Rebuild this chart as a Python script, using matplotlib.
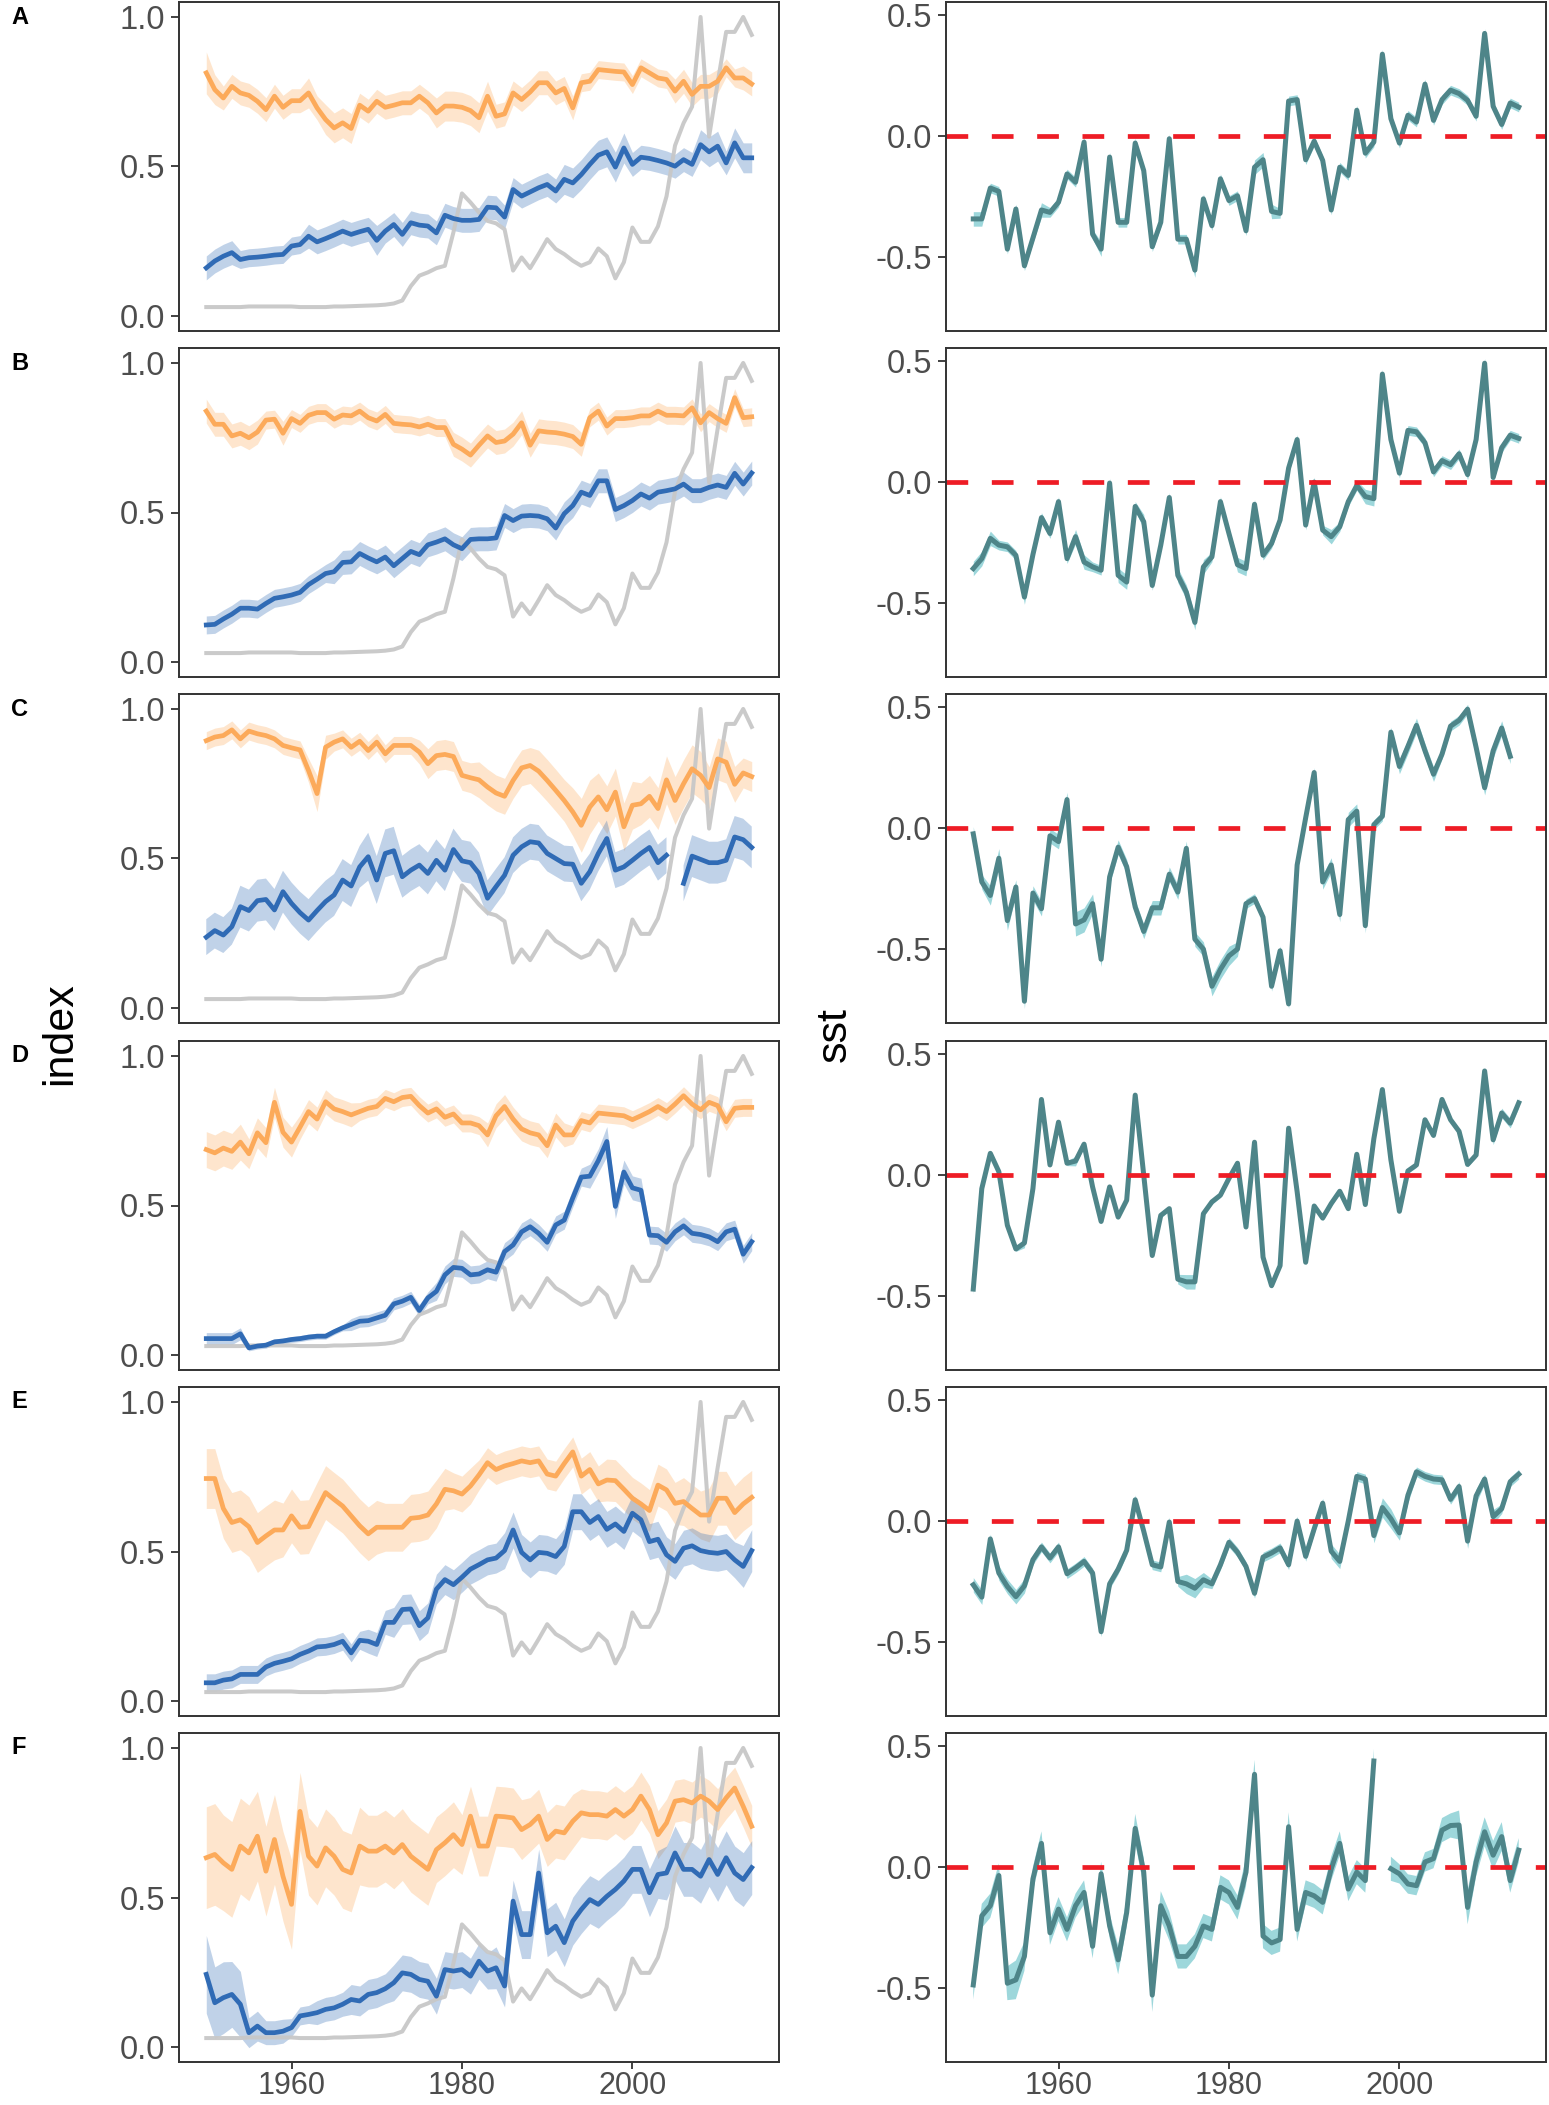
import numpy as np
import matplotlib
matplotlib.use("Agg")
import matplotlib.pyplot as plt

plt.rcParams['font.family'] = ['Liberation Sans', 'DejaVu Sans']

years = list(range(1950, 2015))
panel_labels = ["A", "B", "C", "D", "E", "F"]
left_ticks = [0.0, 0.5, 1.0]
left_ticklabels = ["0.0", "0.5", "1.0"]
right_ticks = [-0.5, 0.0, 0.5]
right_ticklabels = ["-0.5", "0.0", "0.5"]
x_ticks = [1960, 1980, 2000]
x_ticklabels = ["1960", "1980", "2000"]
nan = float("nan")

# shared grey index series
grey_index = [0.03, 0.03, 0.03, 0.03, 0.03, 0.032, 0.032, 0.032, 0.032, 0.032,
              0.032, 0.03, 0.03, 0.03, 0.03, 0.032, 0.032, 0.033, 0.034, 0.035,
              0.036, 0.038, 0.042, 0.052, 0.10, 0.135, 0.146, 0.16, 0.168, 0.28,
              0.41, 0.38, 0.346, 0.318, 0.31, 0.29, 0.152, 0.196, 0.16, 0.207,
              0.257, 0.224, 0.207, 0.185, 0.168, 0.18, 0.226, 0.20, 0.126, 0.18,
              0.296, 0.248, 0.248, 0.30, 0.40, 0.57, 0.645, 0.70, 1.0, 0.60,
              0.78, 0.95, 0.95, 1.0, 0.94]

# orange index series (per panel)
orange_A = [0.813, 0.757, 0.729, 0.768, 0.746, 0.738, 0.718, 0.69, 0.735, 0.698,
            0.72, 0.72, 0.746, 0.696, 0.657, 0.629, 0.646, 0.627, 0.705, 0.685,
            0.718, 0.698, 0.705, 0.713, 0.713, 0.735, 0.713, 0.679, 0.702, 0.702,
            0.698, 0.687, 0.663, 0.735, 0.668, 0.676, 0.746, 0.724, 0.749, 0.78,
            0.78, 0.746, 0.761, 0.696, 0.78, 0.785, 0.824, 0.821, 0.818, 0.816,
            0.774, 0.83, 0.813, 0.796, 0.791, 0.752, 0.785, 0.741, 0.768, 0.768,
            0.785, 0.83, 0.796, 0.796, 0.776]
orange_B = [0.839, 0.795, 0.795, 0.756, 0.765, 0.75, 0.769, 0.809, 0.812, 0.765,
            0.814, 0.798, 0.825, 0.834, 0.834, 0.812, 0.826, 0.823, 0.839, 0.817,
            0.806, 0.828, 0.798, 0.795, 0.793, 0.786, 0.795, 0.784, 0.784, 0.728,
            0.712, 0.692, 0.725, 0.756, 0.734, 0.739, 0.762, 0.80, 0.725, 0.773,
            0.769, 0.767, 0.762, 0.754, 0.728, 0.817, 0.839, 0.789, 0.814, 0.814,
            0.817, 0.823, 0.823, 0.839, 0.825, 0.825, 0.823, 0.85, 0.80, 0.834,
            0.814, 0.798, 0.884, 0.817, 0.82]
orange_C = [0.894, 0.906, 0.911, 0.93, 0.90, 0.926, 0.917, 0.911, 0.90, 0.878,
            0.87, 0.863, 0.794, 0.717, 0.872, 0.889, 0.90, 0.872, 0.892, 0.861,
            0.889, 0.85, 0.878, 0.878, 0.878, 0.856, 0.817, 0.844, 0.848, 0.841,
            0.778, 0.77, 0.763, 0.739, 0.719, 0.708, 0.761, 0.803, 0.811, 0.792,
            0.761, 0.728, 0.694, 0.656, 0.611, 0.672, 0.706, 0.663, 0.722, 0.606,
            0.678, 0.683, 0.708, 0.667, 0.763, 0.694, 0.75, 0.80, 0.778, 0.737,
            0.833, 0.822, 0.748, 0.786, 0.774]
orange_D = [0.687, 0.676, 0.692, 0.681, 0.712, 0.673, 0.743, 0.710, 0.845, 0.745,
            0.712, 0.762, 0.814, 0.789, 0.847, 0.823, 0.814, 0.803, 0.814, 0.825,
            0.831, 0.858, 0.847, 0.861, 0.865, 0.834, 0.809, 0.823, 0.795, 0.806,
            0.776, 0.776, 0.767, 0.736, 0.80, 0.831, 0.789, 0.756, 0.743, 0.736,
            0.70, 0.769, 0.736, 0.736, 0.784, 0.776, 0.809, 0.806, 0.803, 0.80,
            0.787, 0.80, 0.814, 0.831, 0.814, 0.839, 0.867, 0.839, 0.820, 0.845,
            0.834, 0.780, 0.825, 0.828, 0.828]
orange_E = [0.744, 0.744, 0.644, 0.597, 0.606, 0.583, 0.53, 0.552, 0.572, 0.572,
            0.619, 0.581, 0.583, 0.641, 0.697, 0.674, 0.652, 0.619, 0.586, 0.559,
            0.581, 0.581, 0.581, 0.581, 0.611, 0.614, 0.622, 0.659, 0.708, 0.703,
            0.692, 0.719, 0.756, 0.797, 0.774, 0.786, 0.794, 0.803, 0.797, 0.803,
            0.759, 0.752, 0.794, 0.833, 0.752, 0.774, 0.726, 0.739, 0.737, 0.708,
            0.678, 0.659, 0.637, 0.722, 0.706, 0.661, 0.667, 0.644, 0.622, 0.622,
            0.678, 0.678, 0.630, 0.659, 0.681]
orange_F = [0.633, 0.644, 0.616, 0.594, 0.672, 0.649, 0.705, 0.588, 0.694, 0.571,
            0.477, 0.788, 0.638, 0.605, 0.666, 0.638, 0.594, 0.582, 0.672, 0.655,
            0.655, 0.672, 0.649, 0.677, 0.638, 0.616, 0.594, 0.66, 0.683, 0.71,
            0.677, 0.772, 0.672, 0.672, 0.772, 0.77, 0.766, 0.727, 0.744, 0.772,
            0.694, 0.722, 0.716, 0.755, 0.783, 0.777, 0.777, 0.772, 0.794, 0.772,
            0.794, 0.839, 0.794, 0.71, 0.749, 0.822, 0.827, 0.816, 0.839, 0.822,
            0.794, 0.833, 0.866, 0.805, 0.738]

# blue index series (per panel)
blue_A = [0.161, 0.184, 0.20, 0.212, 0.189, 0.195, 0.197, 0.20, 0.204, 0.206,
          0.234, 0.239, 0.267, 0.248, 0.259, 0.271, 0.284, 0.273, 0.282, 0.29,
          0.253, 0.284, 0.306, 0.273, 0.312, 0.304, 0.301, 0.278, 0.337, 0.326,
          0.32, 0.32, 0.323, 0.364, 0.362, 0.331, 0.423, 0.401, 0.415, 0.429,
          0.44, 0.418, 0.457, 0.445, 0.473, 0.507, 0.538, 0.549, 0.498, 0.562,
          0.507, 0.531, 0.527, 0.52, 0.512, 0.501, 0.523, 0.507, 0.573, 0.549,
          0.568, 0.512, 0.579, 0.529, 0.529]
blue_B = [0.124, 0.126, 0.144, 0.16, 0.18, 0.18, 0.177, 0.196, 0.213, 0.218,
          0.224, 0.233, 0.259, 0.277, 0.296, 0.302, 0.333, 0.335, 0.363, 0.348,
          0.335, 0.351, 0.322, 0.346, 0.37, 0.359, 0.392, 0.401, 0.412, 0.392,
          0.379, 0.41, 0.412, 0.412, 0.415, 0.49, 0.473, 0.488, 0.49, 0.488,
          0.479, 0.448, 0.496, 0.523, 0.568, 0.557, 0.606, 0.606, 0.51, 0.523,
          0.54, 0.562, 0.548, 0.568, 0.573, 0.579, 0.595, 0.573, 0.573, 0.584,
          0.592, 0.584, 0.631, 0.595, 0.632]
blue_C = [0.237, 0.259, 0.244, 0.272, 0.339, 0.326, 0.359, 0.363, 0.328, 0.389,
          0.35, 0.319, 0.294, 0.326, 0.356, 0.378, 0.428, 0.408, 0.472, 0.506,
          0.428, 0.517, 0.526, 0.439, 0.461, 0.478, 0.45, 0.494, 0.461, 0.53,
          0.492, 0.486, 0.45, 0.367, 0.406, 0.444, 0.511, 0.539, 0.556, 0.552,
          0.517, 0.50, 0.483, 0.481, 0.417, 0.456, 0.517, 0.567, 0.461, 0.472,
          0.494, 0.517, 0.537, 0.486, 0.511, nan, 0.417, 0.508, 0.497, 0.486,
          0.486, 0.494, 0.572, 0.563, 0.537]
blue_D = [0.055, 0.055, 0.055, 0.055, 0.071, 0.024, 0.030, 0.033, 0.044, 0.047,
          0.052, 0.055, 0.060, 0.063, 0.063, 0.078, 0.091, 0.102, 0.113, 0.115,
          0.124, 0.133, 0.171, 0.180, 0.193, 0.149, 0.191, 0.213, 0.268, 0.293,
          0.290, 0.268, 0.271, 0.285, 0.277, 0.346, 0.368, 0.412, 0.429, 0.407,
          0.377, 0.435, 0.451, 0.525, 0.595, 0.598, 0.650, 0.714, 0.497, 0.612,
          0.559, 0.551, 0.401, 0.399, 0.377, 0.412, 0.432, 0.407, 0.403, 0.395,
          0.379, 0.412, 0.421, 0.337, 0.379]
blue_E = [0.061, 0.061, 0.07, 0.074, 0.089, 0.089, 0.089, 0.114, 0.126, 0.133,
          0.141, 0.156, 0.167, 0.181, 0.183, 0.189, 0.20, 0.161, 0.203, 0.20,
          0.189, 0.263, 0.263, 0.306, 0.308, 0.252, 0.278, 0.374, 0.406, 0.389,
          0.414, 0.441, 0.456, 0.472, 0.478, 0.503, 0.572, 0.497, 0.472, 0.497,
          0.494, 0.483, 0.517, 0.633, 0.633, 0.597, 0.617, 0.574, 0.592, 0.567,
          0.628, 0.606, 0.533, 0.541, 0.489, 0.467, 0.511, 0.519, 0.503, 0.497,
          0.494, 0.50, 0.472, 0.45, 0.503]
blue_F = [0.243, 0.148, 0.165, 0.176, 0.143, 0.048, 0.07, 0.048, 0.048, 0.053,
          0.065, 0.104, 0.109, 0.115, 0.126, 0.131, 0.143, 0.159, 0.154, 0.176,
          0.182, 0.195, 0.215, 0.248, 0.243, 0.226, 0.22, 0.17, 0.259, 0.254,
          0.259, 0.237, 0.287, 0.254, 0.265, 0.204, 0.488, 0.376, 0.376, 0.582,
          0.382, 0.404, 0.349, 0.421, 0.46, 0.493, 0.477, 0.504, 0.527, 0.555,
          0.594, 0.594, 0.516, 0.577, 0.582, 0.649, 0.594, 0.594, 0.571, 0.627,
          0.577, 0.633, 0.582, 0.56, 0.60]

# ribbon half-widths, in hundredths
orange_hw_A = [7, 5, 4, 4, 4, 4, 4, 4, 4, 4, 4, 4, 5, 4, 5, 5, 5, 5, 4, 4,
               4, 4, 4, 4, 4, 4, 4, 5, 5, 5, 5, 5, 5, 5, 4, 4, 4, 4, 4, 4,
               4, 4, 4, 4, 3, 3, 3, 3, 3, 3, 3, 3, 3, 3, 3, 4, 4, 4, 4, 4,
               4, 3, 3, 4, 4]
orange_hw_B = [4, 4, 4, 4, 4, 4, 4, 3, 3, 4, 3, 3, 3, 3, 3, 3, 3, 3, 3, 3,
               3, 3, 3, 3, 3, 3, 3, 3, 3, 4, 4, 4, 4, 4, 4, 4, 4, 4, 4, 4,
               4, 4, 4, 4, 4, 3, 3, 3, 3, 3, 3, 3, 3, 3, 3, 3, 3, 3, 3, 3,
               3, 3, 3, 3, 3]
orange_hw_C = [3, 3, 3, 3, 3, 3, 3, 3, 3, 3, 3, 3, 4, 6, 4, 3, 3, 3, 3, 3,
               3, 3, 3, 3, 3, 4, 5, 5, 5, 5, 5, 5, 6, 6, 6, 6, 6, 6, 6, 7,
               7, 7, 7, 8, 9, 9, 8, 8, 8, 8, 8, 7, 7, 7, 8, 8, 8, 8, 8, 7,
               7, 7, 6, 5, 5]
orange_hw_D = [6, 6, 6, 6, 6, 5, 5, 5, 5, 5, 5, 4, 4, 4, 4, 4, 4, 4, 3, 3,
               3, 3, 3, 3, 3, 3, 3, 3, 3, 3, 3, 3, 3, 4, 4, 4, 4, 4, 4, 4,
               4, 4, 4, 3, 3, 3, 3, 3, 3, 3, 3, 3, 3, 3, 3, 3, 3, 3, 3, 3,
               3, 3, 3, 3, 3]
orange_hw_E = [10, 10, 10, 10, 10, 10, 10, 10, 10, 9, 9, 9, 9, 9, 9, 9, 9, 9, 9, 9,
               9, 8, 8, 8, 8, 8, 8, 8, 7, 6, 6, 6, 5, 5, 5, 5, 5, 5, 5, 5,
               5, 5, 5, 5, 6, 6, 6, 7, 7, 7, 7, 7, 7, 7, 7, 7, 8, 8, 8, 9,
               9, 9, 9, 9, 9]
orange_hw_F = [17, 17, 16, 16, 16, 16, 15, 15, 15, 15, 15, 13, 13, 13, 13, 13, 13, 13, 13, 12,
               12, 12, 12, 12, 12, 12, 12, 11, 11, 11, 10, 10, 10, 10, 10, 10, 10, 10, 9, 9,
               9, 9, 9, 9, 8, 8, 8, 8, 8, 8, 8, 8, 8, 8, 8, 7, 7, 7, 7, 7,
               7, 7, 7, 7, 7]
blue_hw_A = [4, 4, 4, 4, 3, 3, 3, 3, 3, 3, 3, 3, 4, 4, 4, 4, 4, 4, 4, 4,
             5, 4, 4, 4, 4, 4, 4, 4, 4, 4, 4, 4, 4, 4, 4, 4, 4, 4, 4, 4,
             4, 4, 5, 5, 5, 5, 5, 5, 5, 5, 4, 4, 4, 4, 4, 4, 4, 4, 5, 5,
             5, 4, 5, 5, 5]
blue_hw_B = [3, 3, 3, 3, 3, 3, 3, 3, 3, 3, 3, 3, 3, 3, 3, 4, 4, 4, 4, 4,
             4, 4, 4, 4, 4, 4, 4, 4, 4, 4, 4, 4, 4, 4, 4, 4, 4, 4, 4, 4,
             4, 4, 4, 4, 4, 4, 4, 4, 4, 4, 4, 4, 4, 4, 4, 4, 4, 4, 4, 4,
             4, 4, 4, 4, 4]
blue_hw_C = [6, 6, 6, 6, 7, 7, 7, 7, 7, 7, 7, 7, 7, 7, 7, 7, 7, 7, 7, 8,
             8, 8, 8, 7, 7, 7, 7, 7, 7, 7, 7, 7, 7, 6, 6, 6, 6, 6, 6, 6,
             6, 6, 6, 6, 6, 6, 6, 6, 6, 6, 6, 6, 6, 6, 6, 6, 6, 7, 7, 7,
             7, 7, 7, 7, 7]
blue_hw_D = [2, 2, 2, 2, 2, 1, 1, 1, 1, 1, 1, 1, 1, 1, 1, 1, 1, 2, 2, 2,
             2, 2, 2, 2, 2, 2, 2, 3, 3, 3, 3, 3, 3, 3, 3, 3, 3, 3, 3, 3,
             3, 3, 3, 3, 3, 4, 4, 5, 4, 4, 4, 4, 3, 3, 3, 3, 3, 3, 3, 3,
             3, 3, 3, 3, 3]
blue_hw_E = [3, 3, 3, 3, 3, 3, 3, 3, 3, 3, 3, 3, 3, 3, 3, 3, 3, 3, 3, 4,
             4, 4, 5, 5, 5, 5, 5, 5, 5, 5, 5, 5, 5, 5, 5, 6, 6, 6, 6, 6,
             6, 6, 6, 6, 6, 6, 6, 6, 6, 6, 6, 6, 6, 6, 6, 6, 6, 6, 6, 6,
             6, 6, 6, 7, 7]
blue_hw_F = [13, 12, 12, 11, 11, 5, 5, 4, 4, 4, 3, 3, 3, 4, 4, 4, 4, 5, 5, 5,
             5, 5, 6, 6, 6, 6, 6, 6, 6, 6, 6, 6, 6, 6, 7, 7, 7, 8, 8, 8,
             8, 8, 8, 8, 8, 8, 8, 8, 8, 8, 8, 8, 8, 8, 9, 9, 9, 9, 9, 9,
             9, 9, 9, 9, 9]

# sst series (per panel)
sst_A = [-0.343, -0.343, -0.215, -0.229, -0.468, -0.302, -0.537, -0.422, -0.306, -0.316,
         -0.274, -0.157, -0.191, -0.025, -0.406, -0.468, -0.087, -0.357, -0.357, -0.029,
         -0.143, -0.458, -0.357, -0.011, -0.427, -0.427, -0.555, -0.26, -0.371, -0.177,
         -0.267, -0.247, -0.392, -0.129, -0.098, -0.312, -0.32, 0.145, 0.151, -0.098,
         -0.021, -0.101, -0.306, -0.129, -0.163, 0.107, -0.071, -0.025, 0.339, 0.072,
         -0.029, 0.086, 0.058, 0.215, 0.065, 0.151, 0.19, 0.176, 0.148, 0.082,
         0.425, 0.123, 0.048, 0.137, 0.12]
sst_B = [-0.358, -0.317, -0.233, -0.261, -0.268, -0.303, -0.476, -0.30, -0.147, -0.213,
         -0.081, -0.317, -0.226, -0.331, -0.351, -0.365, -0.004, -0.386, -0.414, -0.101,
         -0.164, -0.428, -0.261, -0.064, -0.386, -0.456, -0.581, -0.351, -0.31, -0.081,
         -0.213, -0.342, -0.358, -0.092, -0.303, -0.254, -0.157, 0.058, 0.176, -0.178,
         0.0, -0.199, -0.226, -0.185, -0.081, -0.014, -0.06, -0.069, 0.447, 0.176,
         0.037, 0.214, 0.208, 0.163, 0.042, 0.089, 0.072, 0.117, 0.031, 0.176,
         0.492, 0.019, 0.142, 0.194, 0.181]
sst_C = [-0.024, -0.223, -0.279, -0.125, -0.383, -0.244, -0.717, -0.269, -0.334, -0.032,
         -0.056, 0.118, -0.397, -0.38, -0.313, -0.543, -0.202, -0.079, -0.16, -0.327,
         -0.428, -0.33, -0.33, -0.191, -0.265, -0.084, -0.46, -0.501, -0.655, -0.585,
         -0.529, -0.501, -0.313, -0.292, -0.369, -0.655, -0.508, -0.728, -0.153, 0.042,
         0.23, -0.223, -0.153, -0.358, 0.035, 0.07, -0.404, 0.014, 0.049, 0.397,
         0.255, 0.338, 0.425, 0.32, 0.223, 0.306, 0.422, 0.446, 0.492, 0.334,
         0.167, 0.32, 0.414, 0.297, nan]
sst_D = [-0.472, -0.056, 0.09, 0.014, -0.208, -0.306, -0.281, -0.056, 0.313, 0.042,
         0.219, 0.049, 0.058, 0.128, -0.049, -0.192, -0.049, -0.174, -0.104, 0.331,
         0.0, -0.333, -0.167, -0.139, -0.431, -0.442, -0.442, -0.16, -0.111, -0.083,
         -0.014, 0.049, -0.215, 0.136, -0.34, -0.458, -0.375, 0.194, -0.069, -0.361,
         -0.128, -0.178, -0.118, -0.067, -0.139, 0.086, -0.122, 0.15, 0.354, 0.063,
         -0.15, 0.017, 0.042, 0.229, 0.164, 0.313, 0.229, 0.181, 0.044, 0.083,
         0.431, 0.146, 0.257, 0.215, 0.299]
sst_E = [-0.264, -0.315, -0.074, -0.215, -0.271, -0.313, -0.268, -0.16, -0.107, -0.153,
         -0.107, -0.218, -0.194, -0.167, -0.215, -0.458, -0.26, -0.199, -0.121, 0.088,
         -0.042, -0.181, -0.19, -0.004, -0.25, -0.26, -0.278, -0.243, -0.26, -0.181,
         -0.088, -0.129, -0.188, -0.299, -0.149, -0.132, -0.111, -0.181, 0.0, -0.146,
         -0.032, 0.074, -0.125, -0.167, 0.0, 0.185, 0.174, -0.06, 0.056, 0.01,
         -0.049, 0.107, 0.204, 0.185, 0.174, 0.171, 0.09, 0.143, -0.083, 0.104,
         0.174, 0.018, 0.051, 0.163, 0.194]
sst_F = [-0.488, -0.202, -0.16, -0.035, -0.481, -0.467, -0.37, -0.049, 0.098, -0.272,
         -0.174, -0.258, -0.16, -0.105, -0.328, -0.028, -0.244, -0.384, -0.188, 0.16,
         -0.021, -0.53, -0.16, -0.244, -0.37, -0.37, -0.328, -0.244, -0.258, -0.084,
         -0.105, -0.167, -0.021, 0.384, -0.286, -0.314, -0.3, 0.167, -0.258, -0.105,
         -0.119, -0.146, -0.007, 0.098, -0.091, -0.021, -0.056, 0.439, nan, -0.007,
         -0.028, -0.07, -0.077, 0.021, 0.035, 0.153, 0.172, 0.174, -0.167, 0.021,
         0.146, 0.049, 0.126, -0.056, 0.07]
sst_hw_A = [3, 3, 2, 2, 2, 2, 2, 2, 3, 2, 2, 2, 2, 2, 2, 3, 2, 2, 2, 2,
            2, 2, 2, 2, 2, 2, 3, 2, 2, 2, 2, 2, 2, 3, 3, 3, 2, 2, 2, 2,
            2, 2, 2, 2, 2, 2, 2, 2, 2, 2, 2, 2, 2, 2, 2, 2, 2, 2, 2, 2,
            2, 2, 2, 2, 2]
sst_hw_B = [3, 3, 3, 2, 2, 2, 3, 2, 2, 2, 2, 2, 3, 3, 2, 2, 2, 3, 3, 2,
            3, 2, 2, 2, 3, 3, 3, 3, 2, 2, 2, 3, 3, 2, 2, 2, 2, 2, 2, 2,
            2, 2, 3, 2, 2, 2, 3, 3, 2, 2, 2, 2, 2, 2, 2, 2, 2, 2, 2, 2,
            2, 2, 2, 2, 2]
sst_hw_C = [3, 3, 4, 4, 4, 3, 3, 3, 3, 3, 3, 3, 5, 5, 4, 3, 3, 3, 3, 3,
            3, 3, 3, 3, 3, 3, 3, 3, 4, 4, 4, 3, 2, 2, 2, 2, 2, 2, 2, 2,
            2, 3, 3, 3, 3, 3, 3, 2, 2, 2, 3, 3, 3, 3, 3, 2, 2, 2, 2, 3,
            3, 3, 3, 3, 3]
sst_hw_D = [2, 2, 1, 1, 1, 1, 2, 1, 1, 1, 1, 1, 2, 1, 1, 1, 1, 1, 1, 1,
            1, 1, 1, 1, 2, 3, 3, 1, 1, 1, 1, 1, 1, 1, 1, 1, 1, 1, 1, 1,
            1, 1, 1, 1, 1, 1, 1, 1, 1, 1, 1, 1, 1, 1, 1, 1, 1, 1, 1, 1,
            1, 2, 2, 2, 2]
sst_hw_E = [3, 3, 2, 3, 3, 3, 3, 2, 2, 2, 2, 2, 2, 2, 2, 2, 2, 2, 2, 2,
            2, 2, 2, 2, 2, 4, 4, 3, 2, 2, 2, 2, 2, 2, 2, 2, 2, 2, 2, 2,
            2, 2, 3, 3, 2, 2, 2, 3, 4, 4, 3, 3, 2, 2, 2, 2, 2, 2, 3, 3,
            2, 3, 2, 2, 2]
sst_hw_F = [6, 5, 5, 5, 7, 8, 6, 5, 5, 5, 5, 5, 5, 5, 5, 5, 5, 6, 6, 6,
            6, 7, 6, 6, 5, 5, 5, 5, 5, 5, 5, 5, 6, 6, 5, 5, 5, 6, 5, 5,
            5, 5, 5, 5, 5, 5, 5, 5, 5, 5, 4, 4, 4, 4, 4, 5, 5, 6, 7, 6,
            6, 6, 6, 5, 5]

orange_series = [orange_A, orange_B, orange_C, orange_D, orange_E, orange_F]
orange_hw = [orange_hw_A, orange_hw_B, orange_hw_C, orange_hw_D, orange_hw_E, orange_hw_F]
blue_series = [blue_A, blue_B, blue_C, blue_D, blue_E, blue_F]
blue_hw = [blue_hw_A, blue_hw_B, blue_hw_C, blue_hw_D, blue_hw_E, blue_hw_F]
sst_series = [sst_A, sst_B, sst_C, sst_D, sst_E, sst_F]
sst_hw = [sst_hw_A, sst_hw_B, sst_hw_C, sst_hw_D, sst_hw_E, sst_hw_F]

# ---- styling ----
ORANGE = "#FCAA5A"
BLUE = "#306BB5"
GREY = "#C8C8C8"
TEAL = "#4E8589"
TEAL_FILL = "#7CCAD0"
RED = "#EE1C25"
TICK_COLOR = "#4D4D4D"
FRAME = "#333333"

W, H = 1549, 2105
fig = plt.figure(figsize=(W / 100, H / 100), dpi=100)

left_x0, left_w = 179, 600
right_x0, right_w = 946, 600
panel_h = 329
row_tops = [2, 348, 694, 1041, 1387, 1733]

yrs = np.array(years, dtype=float)
xlim = (1950 - 0.05 * 64, 2014 + 0.05 * 64)


def style_axes(ax, show_x):
    for sp in ax.spines.values():
        sp.set_color(FRAME)
        sp.set_linewidth(1.4)
    ax.tick_params(axis="both", colors=FRAME, labelcolor=TICK_COLOR,
                   labelsize=23.5, length=6, width=1.3, pad=4)
    ax.set_xlim(*xlim)
    if show_x:
        ax.set_xticks(x_ticks)
        ax.set_xticklabels(x_ticklabels)
        ax.tick_params(axis="x", pad=1.5, length=5, labelsize=22)
    else:
        ax.set_xticks([])


for i in range(6):
    top = row_tops[i]
    bottom = 1 - (top + panel_h) / H
    show_x = (i == 5)

    # left panel
    axl = fig.add_axes([left_x0 / W, bottom, left_w / W, panel_h / H])
    o = np.array(orange_series[i])
    ohw = np.array(orange_hw[i]) / 100.0
    b = np.array(blue_series[i])
    bhw = np.array(blue_hw[i]) / 100.0
    axl.fill_between(yrs, o - ohw, o + ohw, color=ORANGE, alpha=0.3, lw=0)
    axl.fill_between(yrs, b - bhw, b + bhw, color=BLUE, alpha=0.3, lw=0)
    axl.plot(yrs, grey_index, color=GREY, lw=2.9, alpha=0.95, solid_joinstyle="round")
    axl.plot(yrs, o, color=ORANGE, lw=3.4, solid_joinstyle="round")
    axl.plot(yrs, b, color=BLUE, lw=3.4, solid_joinstyle="round")
    axl.set_ylim(-0.05, 1.05)
    axl.set_yticks(left_ticks)
    axl.set_yticklabels(left_ticklabels)
    style_axes(axl, show_x)

    # right panel
    axr = fig.add_axes([right_x0 / W, bottom, right_w / W, panel_h / H])
    s = np.array(sst_series[i])
    shw = np.array(sst_hw[i]) / 100.0
    axr.fill_between(yrs, s - shw, s + shw, color=TEAL_FILL, alpha=0.75, lw=0)
    axr.plot(yrs, s, color=TEAL, lw=3.6, solid_joinstyle="round")
    axr.axhline(0.0, color=RED, lw=3.4, linestyle=(0, (4.6, 5.0)))
    axr.set_ylim(-0.807, 0.555)
    axr.set_yticks(right_ticks)
    axr.set_yticklabels(right_ticklabels)
    style_axes(axr, show_x)

    # panel letter
    fig.text(11 / W, 1 - (top + 15) / H, panel_labels[i], fontsize=17,
             fontweight="bold", ha="left", va="center", color="black")

fig.text(60 / W, 1 - 1034 / H, "index", rotation=90, fontsize=31,
         ha="center", va="center", color="black")
fig.text(835 / W, 1 - 1034 / H, "sst", rotation=90, fontsize=31,
         ha="center", va="center", color="black")

fig.savefig("out.png", dpi=100, facecolor="white")
